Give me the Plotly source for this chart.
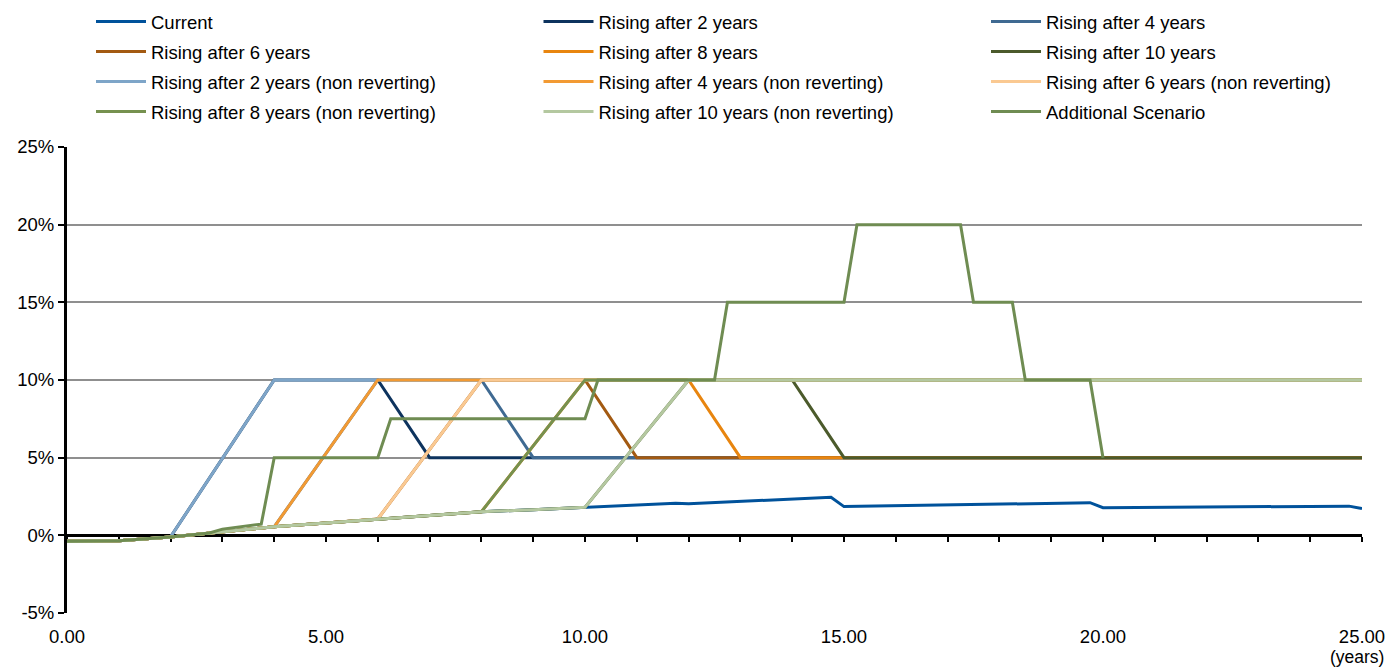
import plotly.graph_objects as go

# ---------------- data ----------------
current_x = [0, 0.75, 1, 2, 2.75, 3, 4, 5, 6, 7, 8, 9, 10, 11, 11.75, 12, 13, 14, 14.75, 15,
             16, 17, 18, 19, 19.75, 20, 21, 22, 23, 24, 24.75, 25]
current_y = [-0.38, -0.38, -0.35, -0.1, 0.15, 0.25, 0.55, 0.8, 1.05, 1.3, 1.52, 1.65, 1.8, 1.92, 2.07, 2.03,
             2.18, 2.3, 2.45, 1.85, 1.9, 1.93, 1.97, 2.03, 2.1, 1.78, 1.8, 1.8, 1.83, 1.86, 1.88, 1.72]

r2_x = [0, 0.75, 1, 2, 4, 6, 7, 25]
r2_y = [-0.38, -0.38, -0.35, -0.1, 10, 10, 5, 5]
r4_x = [0, 0.75, 1, 2, 2.75, 3, 4, 6, 8, 9, 25]
r4_y = [-0.38, -0.38, -0.35, -0.1, 0.15, 0.25, 0.55, 10, 10, 5, 5]
r6_x = [0, 0.75, 1, 2, 2.75, 3, 4, 5, 6, 8, 10, 11, 25]
r6_y = [-0.38, -0.38, -0.35, -0.1, 0.15, 0.25, 0.55, 0.8, 1.05, 10, 10, 5, 5]
r8_x = [0, 0.75, 1, 2, 2.75, 3, 4, 5, 6, 7, 8, 10, 12, 13, 25]
r8_y = [-0.38, -0.38, -0.35, -0.1, 0.15, 0.25, 0.55, 0.8, 1.05, 1.3, 1.52, 10, 10, 5, 5]
r10_x = [0, 0.75, 1, 2, 2.75, 3, 4, 5, 6, 7, 8, 9, 10, 12, 14, 15, 25]
r10_y = [-0.38, -0.38, -0.35, -0.1, 0.15, 0.25, 0.55, 0.8, 1.05, 1.3, 1.52, 1.65, 1.8, 10, 10, 5, 5]

r2nr_x = [0, 0.75, 1, 2, 4, 25]
r2nr_y = [-0.38, -0.38, -0.35, -0.1, 10, 10]
r4nr_x = [0, 0.75, 1, 2, 2.75, 3, 4, 6, 25]
r4nr_y = [-0.38, -0.38, -0.35, -0.1, 0.15, 0.25, 0.55, 10, 10]
r6nr_x = [0, 0.75, 1, 2, 2.75, 3, 4, 5, 6, 8, 25]
r6nr_y = [-0.38, -0.38, -0.35, -0.1, 0.15, 0.25, 0.55, 0.8, 1.05, 10, 10]
r8nr_x = [0, 0.75, 1, 2, 2.75, 3, 4, 5, 6, 7, 8, 10, 25]
r8nr_y = [-0.38, -0.38, -0.35, -0.1, 0.15, 0.25, 0.55, 0.8, 1.05, 1.3, 1.52, 10, 10]
r10nr_x = [0, 0.75, 1, 2, 2.75, 3, 4, 5, 6, 7, 8, 9, 10, 12, 25]
r10nr_y = [-0.38, -0.38, -0.35, -0.1, 0.15, 0.25, 0.55, 0.8, 1.05, 1.3, 1.52, 1.65, 1.8, 10, 10]

add_x = [0, 0.75, 1, 2, 2.75, 3, 3.75, 4, 6, 6.25, 10, 10.25, 12.5, 12.75, 15, 15.25,
         17.25, 17.5, 18.25, 18.5, 19.75, 20]
add_y = [-0.38, -0.38, -0.35, -0.1, 0.15, 0.4, 0.72, 5, 5, 7.5, 7.5, 10, 10, 15, 15, 20,
         20, 15, 15, 10, 10, 5]

names = ["Current", "Rising after 2 years", "Rising after 4 years",
         "Rising after 6 years", "Rising after 8 years", "Rising after 10 years",
         "Rising after 2 years (non reverting)", "Rising after 4 years (non reverting)",
         "Rising after 6 years (non reverting)", "Rising after 8 years (non reverting)",
         "Rising after 10 years (non reverting)", "Additional Scenario"]
colors = ["#00529B", "#0D335E", "#3F6A92", "#A35A12", "#E8850F", "#4B5A2B",
          "#7EA5C8", "#F29A33", "#FAC992", "#76914F", "#B4C8A0", "#6F8C52"]

x_tickvals = [0, 5, 10, 15, 20, 25]
x_ticktext = ["0.00", "5.00", "10.00", "15.00", "20.00", "25.00"]
x_unit = "(years)"
y_tickvals = [-5, 0, 5, 10, 15, 20, 25]
y_ticktext = ["-5%", "0%", "5%", "10%", "15%", "20%", "25%"]

series = [(current_x, current_y), (r2_x, r2_y), (r4_x, r4_y), (r6_x, r6_y), (r8_x, r8_y),
          (r10_x, r10_y), (r2nr_x, r2nr_y), (r4nr_x, r4nr_y), (r6nr_x, r6nr_y),
          (r8nr_x, r8nr_y), (r10nr_x, r10nr_y), (add_x, add_y)]

# ---------------- figure ----------------
W, H = 1388, 668
ML, MR, MT, MB = 67, 26, 147, 55
plot_w = W - ML - MR
plot_h = H - MT - MB

fig = go.Figure()
legend_ids = ["legend", "legend2", "legend3", "legend4"]
for i, ((xs, ys), nm, col) in enumerate(zip(series, names, colors)):
    fig.add_trace(go.Scatter(
        x=xs, y=ys, name=nm, mode="lines",
        line=dict(color=col, width=3),
        legend=legend_ids[i // 3],
        hoverinfo="skip",
    ))

FONT = "Liberation Sans, Arial, sans-serif"
FS = 18.5
row_px = [22, 52, 82, 112]
LEG_LEFT = 61
INDENT = 30
ITEMW = 50
COL_STEP = 447.5


def leg(rowy):
    return dict(
        orientation="h", x=(LEG_LEFT - ML) / plot_w, xanchor="left",
        y=(H - MB - rowy) / plot_h, yanchor="middle",
        entrywidth=COL_STEP - 5 - (INDENT + ITEMW + 10), entrywidthmode="pixels",
        itemwidth=ITEMW, indentation=INDENT,
        font=dict(family=FONT, size=FS, color="black"),
        bgcolor="rgba(0,0,0,0)", traceorder="normal",
    )


fig.update_layout(
    width=W, height=H,
    margin=dict(l=ML, r=MR, t=MT, b=MB, autoexpand=False),
    paper_bgcolor="white", plot_bgcolor="white",
    font=dict(family=FONT, size=FS, color="black"),
    showlegend=True,
    legend=leg(row_px[0]), legend2=leg(row_px[1]),
    legend3=leg(row_px[2]), legend4=leg(row_px[3]),
    xaxis=dict(
        range=[0, 25], tickvals=x_tickvals, ticktext=x_ticktext,
        showgrid=False, zeroline=False, showline=False, ticks="",
        ticklabelstandoff=10, ticklabeloverflow="allow",
        tickfont=dict(family=FONT, size=FS, color="black"),
    ),
    xaxis2=dict(
        overlaying="x", matches="x", anchor="free", position=5 / 30, side="bottom",
        range=[0, 25], dtick=1, tick0=0, ticks="outside", ticklen=5, tickwidth=2,
        tickcolor="black", showticklabels=False, showgrid=False, zeroline=False,
        showline=True, linecolor="black", linewidth=3, layer="below traces",
    ),
    yaxis=dict(
        range=[-5, 25], tickvals=y_tickvals, ticktext=y_ticktext,
        showgrid=True, gridcolor="#8F8F8F", gridwidth=1.5, zeroline=False,
        showline=True, linecolor="black", linewidth=3,
        ticks="outside", ticklen=6, tickwidth=2, tickcolor="black",
        tickfont=dict(family=FONT, size=FS, color="black"),
    ),
    annotations=[dict(
        text=x_unit, x=x_tickvals[-1], xref="x", xanchor="center", xshift=-5,
        y=(H - MB - 657) / plot_h, yref="paper", yanchor="middle",
        showarrow=False, font=dict(family=FONT, size=FS - 1, color="black"),
    )],
)

# invisible trace to attach the zero-line axis
fig.add_trace(go.Scatter(x=[0, 25], y=[0, 0], xaxis="x2", mode="lines",
                         line=dict(width=0), showlegend=False, hoverinfo="skip"))

fig.write_html("out.html", config={"displayModeBar": False},
               post_script="document.body.style.margin='0';document.body.style.padding='0';")
